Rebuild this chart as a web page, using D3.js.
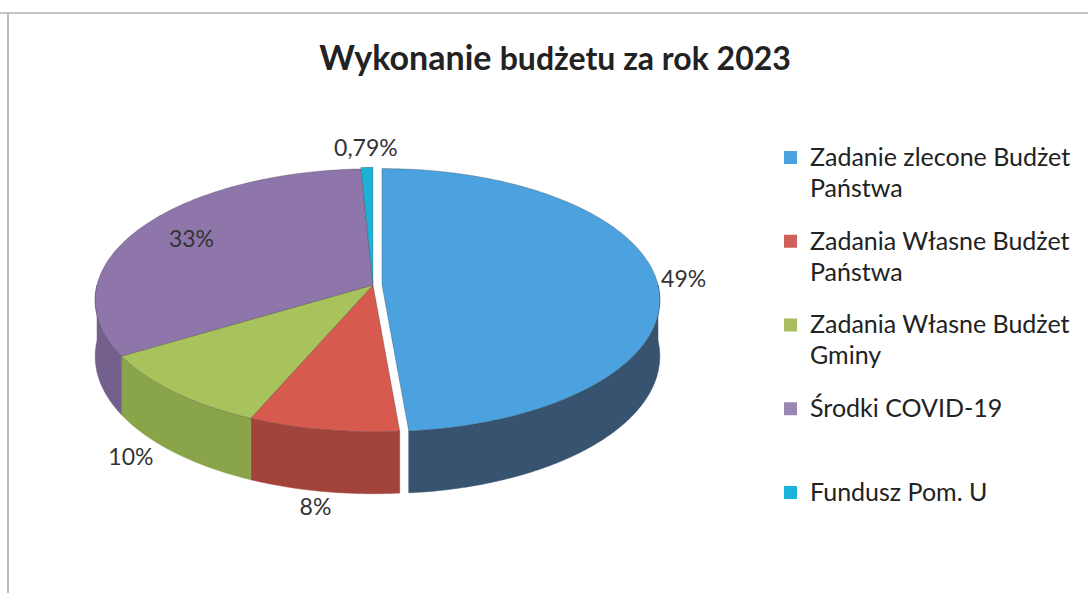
<!DOCTYPE html>
<html>
<head>
<meta charset="utf-8">
<script src="https://cdn.jsdelivr.net/npm/d3@7"></script>
<style>
  body { margin: 0; background: #fff; }
  svg { font-family: Lato, "Open Sans", sans-serif; }
</style>
</head>
<body>
<script>
// chart data
const categories = ['Zadanie zlecone Budżet Państwa', 'Zadania Własne Budżet Państwa',
  'Zadania Własne Budżet Gminy', 'Środki COVID-19', 'Fundusz Pom. U'];
const legendLines = [['Zadanie zlecone Budżet', 'Państwa'], ['Zadania Własne Budżet', 'Państwa'],
  ['Zadania Własne Budżet', 'Gminy'], ['Środki COVID-19'], ['Fundusz Pom. U']];
const values = [49, 8, 10, 33, 0.79];
const valueLabels = ['49%', '8%', '10%', '33%', '0,79%'];
const topColors = ['#4ba2de', '#d65a4e', '#a9c35c', '#8e76aa', '#1db3d9'];
const sideColors = ['#37536f', '#a3443c', '#8aa44a', '#74608c', '#178fae'];
const legendColors = ['#4aa3df', '#d0605a', '#a8bd5f', '#9b86b3', '#1bb3d9'];
const explode = [9, 0, 0, 0, 3];
const labelRadius = [1.1, 1.14, 1.2, 0.78, 1.2];

const W = 1088, H = 593;
const svg = d3.select('body').append('svg').attr('width', W).attr('height', H);

// scanned frame
svg.append('line').attr('x1', 0).attr('x2', W).attr('y1', 13).attr('y2', 13)
  .attr('stroke', '#c4c4c4').attr('stroke-width', 2);
svg.append('line').attr('x1', 8).attr('x2', 8).attr('y1', 13).attr('y2', H)
  .attr('stroke', '#bdbdbd').attr('stroke-width', 2);

const title = svg.append('text').attr('x', 555).attr('y', 70)
  .attr('text-anchor', 'middle').attr('fill', '#222').attr('font-weight', 'bold');
title.append('tspan').attr('font-size', 34).text('Wykonanie ');
title.append('tspan').attr('font-size', 32).text('budżetu za rok 2023');

// pseudo perspective projection of the pie disc
const cx = 373, cy = 285, rx = 276, ry = 131.5, k = 0.116, depth = 55.5;
const angle = d3.scaleLinear().domain([0, d3.sum(values)]).range([0, 2 * Math.PI]);
function proj(a, r, off) {
  const u = Math.sin(a) * r, v = -Math.cos(a) * r;
  const s = 1 + k * v;
  return [cx + rx * u * s + off[0], cy + ry * v * s + off[1]];
}
function h(a) { return depth * (1 - k * Math.cos(a)); }

const pie = d3.pie().sort(null).value(d => d)
  .startAngle(0).endAngle(2 * Math.PI);
const arcs = pie(values).map((d, i) => {
  const mid = (d.startAngle + d.endAngle) / 2;
  const off = [explode[i] * Math.sin(mid), -explode[i] * Math.cos(mid) * ry / rx];
  return Object.assign(d, { i, mid, off });
});

const line = d3.line();
function sample(a0, a1) {
  const n = Math.max(2, Math.ceil((a1 - a0) / 0.01));
  return d3.range(n + 1).map(j => a0 + (a1 - a0) * j / n);
}

// outer walls (front half only)
const g = svg.append('g');
arcs.forEach(d => {
  const a0 = Math.max(d.startAngle, Math.PI / 2), a1 = Math.min(d.endAngle, 3 * Math.PI / 2);
  if (a1 <= a0) return;
  const as = sample(a0, a1);
  const top = as.map(a => proj(a, 1, d.off));
  const bot = as.map(a => { const p = proj(a, 1, d.off); return [p[0], p[1] + h(a)]; }).reverse();
  g.append('path').attr('d', line(top.concat(bot)) + 'Z')
    .attr('fill', sideColors[d.i]).attr('stroke', sideColors[d.i]).attr('stroke-width', 0.5);
});

// top faces
arcs.forEach(d => {
  const pts = [proj(0, 0, d.off)].concat(sample(d.startAngle, d.endAngle).map(a => proj(a, 1, d.off)));
  g.append('path').attr('d', line(pts) + 'Z')
    .attr('fill', topColors[d.i]).attr('stroke', 'rgba(40,40,40,0.35)').attr('stroke-width', 0.8);
});

// value labels
arcs.forEach(d => {
  const p = proj(d.mid, labelRadius[d.i], d.off);
  const v = -Math.cos(d.mid);
  const y = p[1] + (v > 0 ? depth * v : 0);
  svg.append('text').attr('x', p[0]).attr('y', y).attr('dy', '0.35em')
    .attr('text-anchor', 'middle').attr('font-size', 23).attr('fill', '#333')
    .text(valueLabels[d.i]);
});

// legend
const ly = d3.scalePoint().domain(d3.range(categories.length)).range([157, 492]);
const legend = svg.append('g').selectAll('g').data(categories).join('g')
  .attr('transform', (d, i) => `translate(784,${ly(i)})`);
legend.append('rect').attr('x', 0).attr('y', -6).attr('width', 13).attr('height', 13)
  .attr('fill', (d, i) => legendColors[i]);
legend.append('text').attr('x', 26).attr('font-size', 25).attr('fill', '#222')
  .selectAll('tspan').data((d, i) => legendLines[i]).join('tspan')
  .attr('x', 26).attr('y', (t, j) => j * 31).attr('dy', '0.35em').text(t => t);
</script>
</body>
</html>
